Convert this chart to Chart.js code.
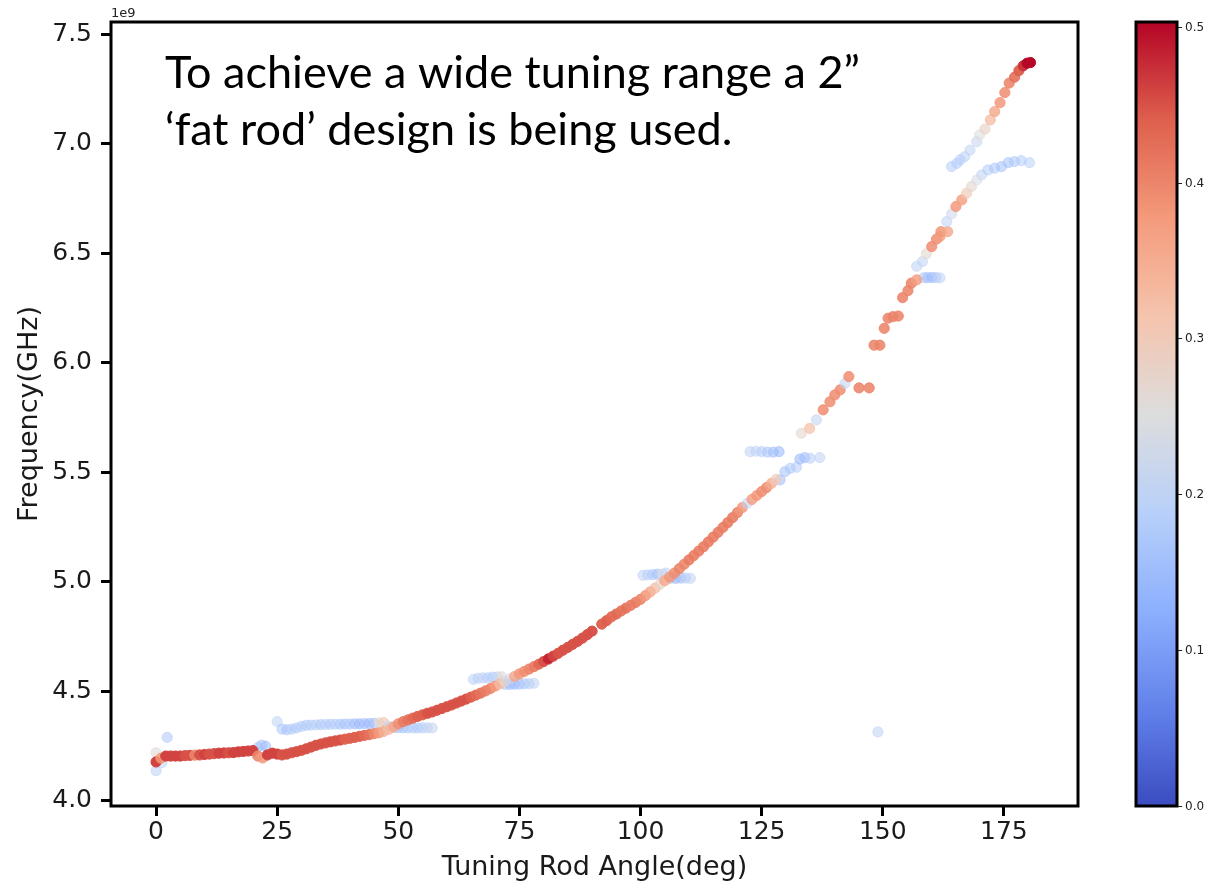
<!DOCTYPE html>
<html>
<head>
<meta charset="utf-8">
<script src="https://cdn.jsdelivr.net/npm/chart.js@4.4.0/dist/chart.umd.min.js"></script>
<style>
    html, body { margin: 0; padding: 0; background: #fff; }
    #wrap { width: 1221px; height: 886px; }
</style>
</head>
<body>
<div id="wrap"><canvas id="myChart" width="1221" height="886"></canvas></div>
<script>
// main resonance track (deg, GHz, colour value)
var mainAngle = [0,1,2,3,4,5,6,7,8,9,10,11,12,13,14,15,16,17,18,19,20,
    21,22,23,24,25,26,27,28,29,30,31,32,33,34,35,36,37,38,39,40,
    41,42,43,44,45,46,47,48,49,50,51,52,53,54,55,56,57,58,59,60,
    61,62,63,64,65,66,67,68,69,70,71,72,73,74,75,76,77,78,79,80,
    81,82,83,84,85,86,87,88,89,90,
    92,93,94,95,96,97,98,99,100,101,102,103,104,105,106,107,108,109,110,
    111,112,113,114,115,116,117,118,119,120,121,122,123,124,125,126,127,128,
    133.2,134.9,136.3,137.7,139.1,140.1,141.2,142.2,143.0,145.1,147.2,148.2,149.4,150.3,151.1,152.1,153.2,
    154.1,155.2,155.9,157.0,157.0,158.2,159.0,160.1,161.1,161.8,162.0,163.4,163.2,164.2,165.1,166.3,167.3,168.3,169.4,
    170.0,171.1,172.2,173.1,174.2,175.2,176.1,177.2,178.1,179.0,179.8,180.5];
var mainFreq = [4.178,4.195,4.205,4.205,4.205,4.205,4.207,4.208,4.209,4.21,4.212,4.214,4.216,4.218,4.219,4.22,4.221,4.224,4.226,4.228,4.23,
    4.205,4.196,4.21,4.218,4.214,4.21,4.214,4.22,4.225,4.231,4.238,4.246,4.254,4.26,4.265,4.27,4.274,4.278,4.282,4.286,
    4.29,4.295,4.299,4.303,4.307,4.311,4.317,4.326,4.338,4.352,4.362,4.37,4.378,4.386,4.393,4.4,4.406,4.414,4.422,4.43,
    4.438,4.447,4.456,4.465,4.474,4.483,4.492,4.502,4.513,4.524,4.535,4.546,4.557,4.568,4.58,4.591,4.602,4.613,4.624,4.636,
    4.648,4.661,4.674,4.688,4.701,4.715,4.728,4.743,4.759,4.775,
    4.807,4.823,4.84,4.853,4.867,4.88,4.893,4.906,4.92,4.937,4.954,4.971,4.988,5.005,5.022,5.04,5.06,5.08,5.1,
    5.12,5.14,5.16,5.182,5.204,5.226,5.248,5.27,5.293,5.316,5.339,5.358,5.376,5.394,5.412,5.43,5.449,5.468,
    5.678,5.70,5.739,5.785,5.822,5.853,5.876,5.906,5.937,5.885,5.885,6.08,6.08,6.157,6.203,6.21,6.213,
    6.297,6.329,6.363,6.378,6.44,6.462,6.497,6.53,6.564,6.576,6.598,6.598,6.644,6.679,6.713,6.743,6.773,6.804,6.834,
    7.04,7.066,7.108,7.146,7.187,7.233,7.276,7.303,7.333,7.355,7.367,7.37];
var mainC = [0.46,0.38,0.46,0.46,0.46,0.46,0.45,0.45,0.4,0.45,0.46,0.45,0.45,0.46,0.46,0.45,0.46,0.46,0.46,0.46,0.46,
    0.4,0.38,0.46,0.46,0.46,0.45,0.45,0.45,0.45,0.45,0.45,0.45,0.45,0.45,0.45,0.45,0.45,0.45,0.44,0.44,
    0.44,0.44,0.43,0.42,0.4,0.38,0.35,0.33,0.36,0.39,0.41,0.42,0.43,0.44,0.44,0.45,0.45,0.45,0.45,0.45,
    0.45,0.45,0.45,0.45,0.44,0.43,0.42,0.41,0.4,0.38,0.33,0.27,0.22,0.36,0.38,0.39,0.4,0.41,0.43,0.45,
    0.48,0.46,0.45,0.45,0.45,0.45,0.45,0.45,0.45,0.45,
    0.44,0.44,0.43,0.43,0.42,0.42,0.41,0.41,0.4,0.38,0.36,0.33,0.28,0.36,0.38,0.39,0.4,0.4,0.41,
    0.41,0.41,0.41,0.41,0.41,0.41,0.41,0.41,0.41,0.4,0.38,0.2,0.37,0.38,0.39,0.39,0.35,0.3,
    0.27,0.32,0.2,0.39,0.39,0.39,0.39,0.2,0.39,0.4,0.4,0.4,0.4,0.4,0.4,0.4,0.4,
    0.4,0.4,0.4,0.37,0.2,0.2,0.27,0.39,0.39,0.37,0.38,0.36,0.2,0.22,0.38,0.37,0.3,0.27,0.24,
    0.25,0.28,0.33,0.36,0.38,0.39,0.4,0.42,0.44,0.47,0.5,0.5];

// other (low colour value) modes crossing the main track
var sideAngle = [0,0,1.2,2.3, 21,21.8,22.6,
    25,26,27,28,29,30,31,32,33,34,35,36,37,38,39,40,41,42,43,44,45,46,47,48,49,50,51,52,53,54,55,56,57,
    65.5,66.5,67.5,68.5,69.5,70.5,71.3, 72,73,74,75,76,77,78,
    100.5,101.5,102.5,103.5,104.5,105.3, 106.3,107.3,108.3,109.3,110.3,
    122.6,123.8,125,126.2,127.4,128.6,
    128.8,129.8,130.9,132.2,132.9,133.9,135,137,
    149,
    158.5,159.3,160.2,161.0,161.8,
    164.2,165.3,166.0,166.9,168.0,169.4,
    170.4,171.7,173.1,174.5,175.9,177.2,178.6,180.3];
var sideFreq = [4.22,4.138,4.175,4.29, 4.245,4.255,4.25,
    4.362,4.328,4.325,4.328,4.333,4.34,4.345,4.346,4.347,4.348,4.349,4.35,4.35,4.35,4.351,4.351,4.352,4.352,4.353,4.353,4.354,4.356,4.358,4.34,4.336,4.335,4.334,4.334,4.333,4.333,4.334,4.334,4.333,
    4.555,4.56,4.562,4.562,4.565,4.566,4.567, 4.532,4.532,4.533,4.533,4.535,4.535,4.537,
    5.03,5.032,5.033,5.035,5.036,5.04, 5.016,5.016,5.017,5.017,5.016,
    5.594,5.596,5.594,5.592,5.592,5.594,
    5.465,5.503,5.518,5.523,5.56,5.567,5.564,5.567,
    4.315,
    6.388,6.388,6.389,6.388,6.387,
    6.895,6.91,6.926,6.94,6.97,7.009,
    6.857,6.88,6.888,6.895,6.913,6.918,6.922,6.913];
var sideC = [0.26,0.19,0.2,0.17, 0.18,0.16,0.15,
    0.2,0.17,0.16,0.18,0.17,0.18,0.17,0.18,0.19,0.17,0.18,0.17,0.18,0.17,0.16,0.17,0.15,0.14,0.15,0.14,0.15,0.27,0.3,0.2,0.16,0.15,0.16,0.17,0.18,0.17,0.18,0.2,0.21,
    0.19,0.19,0.2,0.18,0.18,0.2,0.26, 0.17,0.14,0.14,0.15,0.17,0.18,0.2,
    0.2,0.19,0.17,0.15,0.24,0.2, 0.17,0.14,0.15,0.18,0.2,
    0.2,0.2,0.18,0.17,0.15,0.14,
    0.15,0.16,0.17,0.18,0.14,0.15,0.18,0.2,
    0.2,
    0.17,0.15,0.14,0.17,0.2,
    0.18,0.18,0.18,0.19,0.2,0.21,
    0.2,0.18,0.17,0.16,0.16,0.17,0.18,0.19];

var xTicks = [0,25,50,75,100,125,150,175];
var yTicks = [4.0,4.5,5.0,5.5,6.0,6.5,7.0,7.5];
var cbTicks = [0.0,0.1,0.2,0.3,0.4,0.5];
var cbMax = 0.503;

var noteLines = ['To achieve a wide tuning range a 2\u201D', '\u2018fat rod\u2019 design is being used.'];

// coolwarm stops
var coolwarm = [[59,76,192],[98,130,234],[141,176,254],[184,208,249],[221,221,221],
    [245,196,173],[244,154,123],[222,96,77],[180,4,38]];

function cmap(t) {
    t = Math.max(0, Math.min(1, t));
    var p = t * (coolwarm.length - 1);
    var i = Math.min(Math.floor(p), coolwarm.length - 2);
    var f = p - i;
    return coolwarm[i].map(function (v, k) {
        return Math.round(v + (coolwarm[i + 1][k] - v) * f);
    });
}
function pointColor(c) {
    var rgb = cmap(c / cbMax);
    var a = Math.max(0.55, Math.min(1, 2 * c + 0.08));
    return 'rgba(' + rgb.join(',') + ',' + a.toFixed(2) + ')';
}
function toPoints(xs, ys) {
    return xs.map(function (x, i) { return {x: x, y: ys[i]}; });
}
function noPad(s) {
    s.paddingTop = 0;
    s.paddingBottom = 0;
    s.paddingLeft = 0;
    s.paddingRight = 0;
}

var mainColors = mainC.map(pointColor);
var sideColors = sideC.map(pointColor);

var tickFont = {family: 'DejaVu Sans', size: 25};
var titleFont = {family: 'DejaVu Sans', size: 27};

const decor = {
    id: 'decor',
    afterDraw(chart) {
        const ctx = chart.ctx;
        const a = chart.chartArea;
        const cb = chart.scales.cb;
        ctx.save();
        // frame
        ctx.lineWidth = 3;
        ctx.strokeStyle = '#000';
        ctx.strokeRect(a.left, a.top, a.right - a.left, a.bottom - a.top);

        // colorbar
        var cbLeft = 1136, cbW = 41;
        var top = cb.getPixelForValue(cbMax), bot = cb.getPixelForValue(0);
        var g = ctx.createLinearGradient(0, bot, 0, top);
        coolwarm.forEach(function (c, i) {
            g.addColorStop(i / (coolwarm.length - 1), 'rgb(' + c.join(',') + ')');
        });
        ctx.fillStyle = g;
        ctx.fillRect(cbLeft, top, cbW, bot - top);
        ctx.strokeRect(cbLeft, top, cbW, bot - top);
        ctx.lineWidth = 1;
        ctx.strokeStyle = '#222';
        ctx.fillStyle = '#222';
        ctx.font = '12px "DejaVu Sans"';
        ctx.textAlign = 'left';
        ctx.textBaseline = 'middle';
        cbTicks.forEach(function (v) {
            var y = Math.round(cb.getPixelForValue(v)) + 0.5;
            ctx.beginPath();
            ctx.moveTo(cbLeft + cbW + 1, y);
            ctx.lineTo(cbLeft + cbW + 5, y);
            ctx.stroke();
            ctx.fillText(v.toFixed(1), cbLeft + cbW + 8, y);
        });

        // offset text
        ctx.font = '13px "DejaVu Sans"';
        ctx.textBaseline = 'alphabetic';
        ctx.fillText('1e9', a.left, 17);

        // note
        ctx.fillStyle = '#000';
        ctx.font = '45px Lato';
        ctx.fillText(noteLines[0], 165, 88);
        ctx.fillText(noteLines[1], 165, 145);
        ctx.restore();
    }
};

const ctx = document.getElementById('myChart');
new Chart(ctx, {
    type: 'scatter',
    data: {
        datasets: [{
            label: 'main',
            data: toPoints(mainAngle, mainFreq),
            pointBackgroundColor: mainColors,
            pointBorderColor: mainColors,
            pointBorderWidth: 1,
            pointRadius: 5.1,
            pointHoverRadius: 5.1
        }, {
            label: 'side',
            data: toPoints(sideAngle, sideFreq),
            pointBackgroundColor: sideColors,
            pointBorderColor: sideColors,
            pointBorderWidth: 1,
            pointRadius: 5.1,
            pointHoverRadius: 5.1
        }]
    },
    options: {
        responsive: false,
        animation: false,
        events: [],
        layout: {padding: {top: 22, left: 0, right: 0, bottom: 0}},
        plugins: {legend: {display: false}, tooltip: {enabled: false}},
        scales: {
            x: {
                type: 'linear',
                min: -9.3,
                max: 190.3,
                afterFit: function (s) { s.height = 80; noPad(s); },
                afterBuildTicks: function (s) { s.ticks = xTicks.map(function (v) { return {value: v}; }); },
                border: {display: false},
                grid: {drawOnChartArea: false, drawTicks: true, tickLength: 10, tickWidth: 3, tickColor: '#000'},
                ticks: {font: tickFont, color: '#1a1a1a', padding: 1, maxRotation: 0, autoSkip: false},
                title: {display: true, text: 'Tuning Rod Angle(deg)', font: titleFont, color: '#1a1a1a', padding: {top: 0, bottom: 2}}
            },
            y: {
                type: 'linear',
                min: 3.977,
                max: 7.555,
                afterFit: function (s) { s.width = 111; noPad(s); },
                afterBuildTicks: function (s) { s.ticks = yTicks.map(function (v) { return {value: v}; }); },
                border: {display: false},
                grid: {drawOnChartArea: false, drawTicks: true, tickLength: 10, tickWidth: 3, tickColor: '#000'},
                ticks: {font: tickFont, color: '#1a1a1a', padding: 9, autoSkip: false,
                    callback: function (v) { return Number(v).toFixed(1); }},
                title: {display: true, text: 'Frequency(GHz)', font: titleFont, color: '#1a1a1a', padding: {top: 14, bottom: 0}}
            },
            cb: {
                type: 'linear',
                position: 'right',
                min: 0,
                max: cbMax,
                afterFit: function (s) { s.width = 143; noPad(s); },
                afterBuildTicks: function (s) { s.ticks = cbTicks.map(function (v) { return {value: v}; }); },
                border: {display: false},
                grid: {display: false, drawTicks: false},
                ticks: {display: false}
            }
        }
    },
    plugins: [decor]
});
</script>
</body>
</html>
